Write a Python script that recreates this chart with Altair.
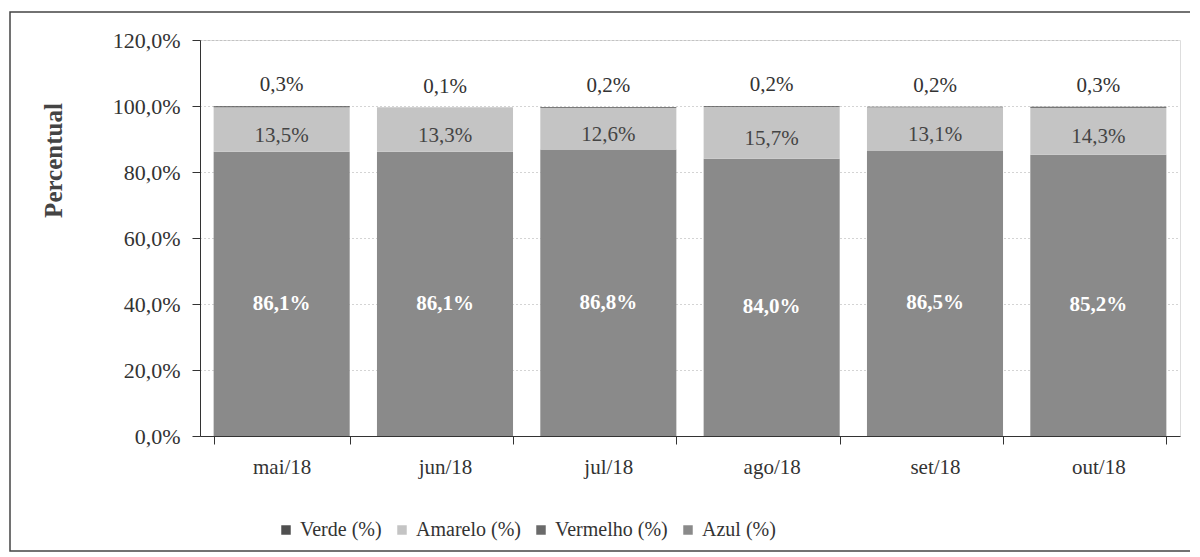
import altair as alt
import pandas as pd

meses = ["mai/18", "jun/18", "jul/18", "ago/18", "set/18", "out/18"]
series = ["Verde (%)", "Amarelo (%)", "Vermelho (%)", "Azul (%)"]
verde = [0.3, 0.1, 0.2, 0.2, 0.2, 0.3]
amarelo = [13.5, 13.3, 12.6, 15.7, 13.1, 14.3]
vermelho = [0.0, 0.0, 0.0, 0.0, 0.0, 0.0]
azul = [86.1, 86.1, 86.8, 84.0, 86.5, 85.2]
y_ticks = [0, 20, 40, 60, 80, 100, 120]

stack_order = {"Azul (%)": 0, "Vermelho (%)": 1, "Amarelo (%)": 2, "Verde (%)": 3}
rows = []
for i, m in enumerate(meses):
    for s, vals in zip(series, [verde, amarelo, vermelho, azul]):
        rows.append({"mes": m, "serie": s, "valor": vals[i], "ordem": stack_order[s]})
df = pd.DataFrame(rows)

FONT = "Liberation Serif"
colors = ["#4f4f4f", "#c4c4c4", "#6a6a6a", "#8a8a8a"]
LBL = "replace(format(datum.valor, '.1f'), '.', ',') + '%'"

x_enc = alt.X("mes:N", sort=meses, title=None,
              scale=alt.Scale(paddingInner=0.167, paddingOuter=0.0835),
              axis=alt.Axis(labelAngle=0, labelFont=FONT, labelFontSize=21, labelColor="#333333",
                            labelPadding=12, tickBand="extent", tickSize=8, tickColor="#333333",
                            domainColor="#333333", grid=False))

base = alt.Chart(df).transform_stack(
    stack="valor", groupby=["mes"], as_=["y0", "y1"],
    sort=[alt.SortField("ordem", order="ascending")]
).transform_calculate(mid="(datum.y0 + datum.y1) / 2", lbl=LBL)

bars = base.mark_bar().encode(
    x=x_enc,
    y=alt.Y("y0:Q", scale=alt.Scale(domain=[0, 120], nice=False),
            axis=alt.Axis(values=y_ticks, title="Percentual",
                          labelExpr="replace(format(datum.value, '.1f'), '.', ',') + '%'",
                          labelFont=FONT, labelFontSize=22, labelColor="#333333", labelPadding=12,
                          tickSize=8, tickColor="#333333", domainColor="#333333",
                          grid=True, gridColor="#a8a8a8", gridDash=[1, 3], gridWidth=1,
                          titleFont=FONT, titleFontSize=25, titleFontWeight="bold",
                          titleColor="#444444", titleX=-147, titleY=120, titleAngle=-90,
                          titleAlign="center", titleBaseline="middle")),
    y2="y1:Q",
    color=alt.Color("serie:N", scale=alt.Scale(domain=series, range=colors),
                    legend=alt.Legend(title=None, orient="none", direction="horizontal",
                                      legendX=76, legendY=480, columns=4,
                                      labelFont=FONT, labelFontSize=20, labelColor="#333333",
                                      symbolType="square", symbolSize=90, symbolStrokeWidth=0,
                                      columnPadding=10, labelOffset=4)),
    order=alt.Order("ordem:Q"),
)

azul_lbl = base.transform_filter("datum.serie == 'Azul (%)'").mark_text(
    font=FONT, fontSize=21, fontWeight="bold", color="white", dy=10
).encode(x=alt.X("mes:N", sort=meses), y="mid:Q", text=alt.Text("lbl:N"))

amarelo_lbl = base.transform_filter("datum.serie == 'Amarelo (%)'").mark_text(
    font=FONT, fontSize=21, color="#444444", dy=6
).encode(x=alt.X("mes:N", sort=meses), y="mid:Q", text=alt.Text("lbl:N"))

verde_lbl = base.transform_filter("datum.serie == 'Verde (%)'").mark_text(
    font=FONT, fontSize=21, color="#333333", dy=-21
).encode(x=alt.X("mes:N", sort=meses), y="y1:Q", text=alt.Text("lbl:N"))

frame = alt.Chart(pd.DataFrame({"a": [0]})).mark_rect(
    fill=None, stroke="#444444", strokeWidth=1.5
).encode(x=alt.value(-190), x2=alt.value(1000), y=alt.value(-28), y2=alt.value(511))

chart = alt.layer(bars, azul_lbl, amarelo_lbl, verde_lbl, frame).properties(
    width=980, height=396,
    autosize=alt.AutoSizeParams(type="none"),
    padding={"left": 192, "top": 32, "right": 10, "bottom": 117},
).configure_view(stroke=None).configure(background="white")

chart.save("out.html", embed_options={"renderer": "svg", "actions": False})
